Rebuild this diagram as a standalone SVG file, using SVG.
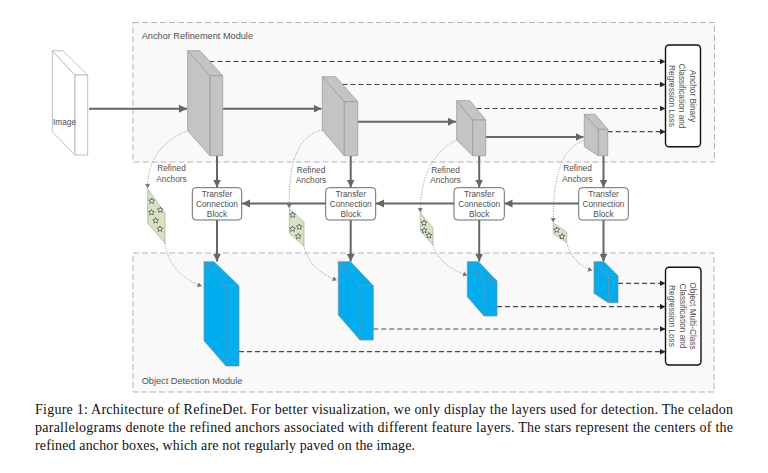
<svg xmlns="http://www.w3.org/2000/svg" width="768" height="473" viewBox="0 0 768 473">
<style>
.mod{fill:#f9f9f9;stroke:#b4b4b4;stroke-width:1;stroke-dasharray:6 3}
.lbl{font-family:"Liberation Sans",Arial,sans-serif;fill:#505050}
.mlbl{font-size:9.2px}
.sm{font-size:8.3px}
.gray{fill:#c4c4c4;stroke:#9c9c9c;stroke-width:0.8;stroke-linejoin:round}
.blue{fill:#00aeef;stroke:#7a8c96;stroke-width:0.7;stroke-linejoin:round}
.img{fill:#ffffff;stroke:#b0b0b0;stroke-width:0.8;stroke-linejoin:round}
.solid{stroke:#666666;stroke-width:2;fill:none}
.dash{stroke:#484848;stroke-width:1.2;stroke-dasharray:5 3;fill:none}
.dot{stroke:#7a7a7a;stroke-width:0.8;stroke-dasharray:1 1.5;fill:none}
.tcb{fill:#ffffff;stroke:#6a6a6a;stroke-width:1}
.loss{fill:#ffffff;stroke:#111111;stroke-width:1.4}
.para{fill:#d5e3c1;stroke:#9aa090;stroke-width:0.6}
.star{fill:#ffffff;stroke:#222222;stroke-width:0.6}
.cap{font-family:"Liberation Serif","Times New Roman",serif;font-size:14px;fill:#111111}
</style>
<defs>
<marker id="aS" markerUnits="userSpaceOnUse" markerWidth="10" markerHeight="10" refX="8" refY="4" orient="auto"><path d="M0,0 L8,4 L0,8 Z" fill="#666666"/></marker>
<marker id="aD" markerUnits="userSpaceOnUse" markerWidth="8" markerHeight="8" refX="6" refY="3" orient="auto"><path d="M0,0 L6,3 L0,6 Z" fill="#222222"/></marker>
<marker id="aT" markerUnits="userSpaceOnUse" markerWidth="6" markerHeight="6" refX="4.5" refY="2.5" orient="auto"><path d="M0,0 L4.5,2.5 L0,5 Z" fill="#777777"/></marker>
<path id="st" class="star" d="M0,-3 L0.735,-1.011 L2.853,-0.927 L1.189,0.386 L1.763,2.427 L0,1.25 L-1.763,2.427 L-1.189,0.386 L-2.853,-0.927 L-0.735,-1.011 Z"/>
</defs>
<rect width="768" height="473" fill="#ffffff"/>

<g id="anchor-refinement-module">
<rect class="mod" x="133" y="22.5" width="581.5" height="139.5"/>
<text class="lbl mlbl" x="141.7" y="38.5">Anchor Refinement Module</text>
</g>
<g id="object-detection-module">
<rect class="mod" x="133" y="253" width="581" height="139"/>
<text class="lbl mlbl" x="141.7" y="384">Object Detection Module</text>
</g>

<g id="connectors">
<line class="solid" x1="89" y1="108.7" x2="187" y2="108.7" marker-end="url(#aS)"/>
<line class="solid" x1="222.7" y1="108.7" x2="321.5" y2="108.7" marker-end="url(#aS)"/>
<line class="solid" x1="357.7" y1="121.7" x2="456" y2="121.7" marker-end="url(#aS)"/>
<line class="solid" x1="485.7" y1="137" x2="583.5" y2="137" marker-end="url(#aS)"/>
<line class="solid" x1="217" y1="155.7" x2="217" y2="187.5" marker-end="url(#aS)"/>
<line class="solid" x1="350.7" y1="155.7" x2="350.7" y2="187.5" marker-end="url(#aS)"/>
<line class="solid" x1="479.2" y1="155.7" x2="479.2" y2="187.5" marker-end="url(#aS)"/>
<line class="solid" x1="603.5" y1="155.7" x2="603.5" y2="187.5" marker-end="url(#aS)"/>
<line class="solid" x1="578.7" y1="203.5" x2="504.5" y2="203.5" marker-end="url(#aS)"/>
<line class="solid" x1="454" y1="203.5" x2="376" y2="203.5" marker-end="url(#aS)"/>
<line class="solid" x1="325.7" y1="203.5" x2="242" y2="203.5" marker-end="url(#aS)"/>
<line class="solid" x1="217" y1="220" x2="217" y2="261.5" marker-end="url(#aS)"/>
<line class="solid" x1="350.7" y1="220" x2="350.7" y2="261.5" marker-end="url(#aS)"/>
<line class="solid" x1="479.2" y1="220" x2="479.2" y2="261.5" marker-end="url(#aS)"/>
<line class="solid" x1="603.5" y1="220" x2="603.5" y2="261.5" marker-end="url(#aS)"/>
<line class="dash" x1="209.5" y1="61.5" x2="665.5" y2="61.5" marker-end="url(#aD)"/>
<line class="dash" x1="342.5" y1="84.5" x2="665.5" y2="84.5" marker-end="url(#aD)"/>
<line class="dash" x1="476.5" y1="108.5" x2="665.5" y2="108.5" marker-end="url(#aD)"/>
<line class="dash" x1="607.7" y1="131.7" x2="665.5" y2="131.7" marker-end="url(#aD)"/>
<line class="dash" x1="618" y1="283.3" x2="665.5" y2="283.3" marker-end="url(#aD)"/>
<line class="dash" x1="497" y1="306.7" x2="665.5" y2="306.7" marker-end="url(#aD)"/>
<line class="dash" x1="373.3" y1="329" x2="665.5" y2="329" marker-end="url(#aD)"/>
<line class="dash" x1="239" y1="351.7" x2="665.5" y2="351.7" marker-end="url(#aD)"/>
<path class="dot" d="M187.7,130.7 C163,140 147,160 147.7,188.5" marker-end="url(#aT)"/>
<path class="dot" d="M165,243 C167,262 180,278 202,286.3" marker-end="url(#aT)"/>
<path class="dot" d="M322.3,130 C300,135 288,158 289.3,208.5" marker-end="url(#aT)"/>
<path class="dot" d="M304,246 C307,262 320,274 337,280.3" marker-end="url(#aT)"/>
<path class="dot" d="M456.7,140 C435,150 420,175 420.3,212.5" marker-end="url(#aT)"/>
<path class="dot" d="M433,245 C437,259 450,270 467.5,275.3" marker-end="url(#aT)"/>
<path class="dot" d="M584.5,140 C565,147 553,167 553.3,222.5" marker-end="url(#aT)"/>
<path class="dot" d="M566.7,242.5 C570,257 580,266 592.3,270.8" marker-end="url(#aT)"/>
</g>

<g id="image">
<path class="img" d="M52.3,50.7 L75,75 L75,155 L52.3,131.7 Z"/>
<path class="img" d="M52.3,50.7 L63,50.7 L87.7,75 L75,75 Z"/>
<rect class="img" x="75" y="75" width="12.7" height="80"/>
<text class="lbl sm" x="53" y="125">Image</text>
</g>

<g id="arm-feature-1">
<path class="gray" d="M187.7,50.7 L210,75.7 L210,155.7 L187.7,130.7 Z"/>
<path class="gray" d="M187.7,50.7 L200,50.7 L222.7,75.7 L210,75.7 Z"/>
<rect class="gray" x="210" y="75.7" width="12.7" height="80"/>
</g>
<g id="arm-feature-2">
<path class="gray" d="M322.3,76.7 L344.3,101.7 L344.3,155.7 L322.3,130 Z"/>
<path class="gray" d="M322.3,76.7 L335.7,76.7 L357.7,101.7 L344.3,101.7 Z"/>
<rect class="gray" x="344.3" y="101.7" width="13.4" height="54"/>
</g>
<g id="arm-feature-3">
<path class="gray" d="M456.7,100.7 L472.7,120 L472.7,155.7 L456.7,140 Z"/>
<path class="gray" d="M456.7,100.7 L470,100.7 L485.7,120 L472.7,120 Z"/>
<rect class="gray" x="472.7" y="120" width="13" height="35.7"/>
</g>
<g id="arm-feature-4">
<path class="gray" d="M584.3,114.3 L598.3,129.3 L598.3,155.7 L584.3,146.7 Z"/>
<path class="gray" d="M584.3,114.3 L595,114.3 L607.7,129.3 L598.3,129.3 Z"/>
<rect class="gray" x="598.3" y="129.3" width="9.4" height="26.4"/>
</g>

<g id="anchor-loss">
<rect class="loss" x="665.5" y="45" width="35" height="101.7" rx="3.5"/>
<g transform="translate(683,96) rotate(90)">
<text class="lbl sm" text-anchor="middle" x="0" y="-6.8">Anchor Binary</text>
<text class="lbl sm" text-anchor="middle" x="0" y="3.6">Classification and</text>
<text class="lbl sm" text-anchor="middle" x="0" y="14">Regression Loss</text>
</g>
</g>

<g id="refined-anchors-label-1"><text class="lbl sm" text-anchor="middle" x="171.5" y="171.3">Refined</text><text class="lbl sm" text-anchor="middle" x="171.5" y="181.5">Anchors</text></g>
<g id="refined-anchors-label-2"><text class="lbl sm" text-anchor="middle" x="311" y="173">Refined</text><text class="lbl sm" text-anchor="middle" x="311" y="183.2">Anchors</text></g>
<g id="refined-anchors-label-3"><text class="lbl sm" text-anchor="middle" x="445.5" y="173">Refined</text><text class="lbl sm" text-anchor="middle" x="445.5" y="183.2">Anchors</text></g>
<g id="refined-anchors-label-4"><text class="lbl sm" text-anchor="middle" x="577.5" y="171.3">Refined</text><text class="lbl sm" text-anchor="middle" x="577.5" y="181.5">Anchors</text></g>

<g id="tcb-1"><rect class="tcb" x="192.3" y="187.7" width="49.4" height="32.3" rx="3.5"/>
<text class="lbl sm" text-anchor="middle" x="217" y="196.5">Transfer</text><text class="lbl sm" text-anchor="middle" x="217" y="206.8">Connection</text><text class="lbl sm" text-anchor="middle" x="217" y="217.1">Block</text></g>
<g id="tcb-2"><rect class="tcb" x="325.7" y="187.7" width="50" height="32.3" rx="3.5"/>
<text class="lbl sm" text-anchor="middle" x="350.7" y="196.5">Transfer</text><text class="lbl sm" text-anchor="middle" x="350.7" y="206.8">Connection</text><text class="lbl sm" text-anchor="middle" x="350.7" y="217.1">Block</text></g>
<g id="tcb-3"><rect class="tcb" x="454" y="187.7" width="50.3" height="32.3" rx="3.5"/>
<text class="lbl sm" text-anchor="middle" x="479.2" y="196.5">Transfer</text><text class="lbl sm" text-anchor="middle" x="479.2" y="206.8">Connection</text><text class="lbl sm" text-anchor="middle" x="479.2" y="217.1">Block</text></g>
<g id="tcb-4"><rect class="tcb" x="578.7" y="187.7" width="49.6" height="32.3" rx="3.5"/>
<text class="lbl sm" text-anchor="middle" x="603.5" y="196.5">Transfer</text><text class="lbl sm" text-anchor="middle" x="603.5" y="206.8">Connection</text><text class="lbl sm" text-anchor="middle" x="603.5" y="217.1">Block</text></g>

<g id="refined-anchors-1">
<path class="para" d="M147.7,189 L165,213 L165,243 L147.7,223.3 Z"/>
<use href="#st" x="151.7" y="201"/><use href="#st" x="151.5" y="212.5"/><use href="#st" x="160.3" y="210"/><use href="#st" x="155.7" y="220.7"/><use href="#st" x="160" y="229"/>
</g>
<g id="refined-anchors-2">
<path class="para" d="M289.3,208.5 L304,222 L304,246 L289.3,233.3 Z"/>
<use href="#st" x="292.7" y="215"/><use href="#st" x="292.5" y="229"/><use href="#st" x="299.3" y="227"/><use href="#st" x="298.3" y="236.3"/>
</g>
<g id="refined-anchors-3">
<path class="para" d="M420.3,213 L433,228 L433,245 L420.3,231 Z"/>
<use href="#st" x="424" y="223"/><use href="#st" x="424.3" y="230.5"/><use href="#st" x="429" y="235.5"/>
</g>
<g id="refined-anchors-4">
<path class="para" d="M553.3,223 L566.7,232 L566.7,242.5 L553.3,234 Z"/>
<use href="#st" x="556.7" y="230"/><use href="#st" x="562" y="236.5"/>
</g>

<g id="odm-feature-1">
<path class="blue" d="M204,261.7 L226,285.7 L226,366 L204,340.7 Z"/>
<path class="blue" d="M204,261.7 L214,261.7 L239,285.7 L226,285.7 Z"/>
<rect class="blue" x="226" y="285.7" width="13" height="80.3"/>
</g>
<g id="odm-feature-2">
<path class="blue" d="M338.3,261.7 L360,285.7 L360,340 L338.3,315 Z"/>
<path class="blue" d="M338.3,261.7 L350.5,261.7 L373.3,285.7 L360,285.7 Z"/>
<rect class="blue" x="360" y="285.7" width="13.3" height="54.3"/>
</g>
<g id="odm-feature-3">
<path class="blue" d="M467.3,261.7 L484,281 L484,316 L467.3,296.7 Z"/>
<path class="blue" d="M467.3,261.7 L478.5,261.7 L497,281 L484,281 Z"/>
<rect class="blue" x="484" y="281" width="13" height="35"/>
</g>
<g id="odm-feature-4">
<path class="blue" d="M594,261.7 L608.3,275.7 L608.3,302.7 L594,293.3 Z"/>
<path class="blue" d="M594,261.7 L604,261.7 L618,275.7 L608.3,275.7 Z"/>
<rect class="blue" x="608.3" y="275.7" width="9.7" height="27"/>
</g>

<g id="object-loss">
<rect class="loss" x="665.5" y="267.3" width="35.5" height="97.7" rx="3.5"/>
<g transform="translate(683.3,316) rotate(90)">
<text class="lbl sm" text-anchor="middle" x="0" y="-6.8">Object Multi-Class</text>
<text class="lbl sm" text-anchor="middle" x="0" y="3.6">Classification and</text>
<text class="lbl sm" text-anchor="middle" x="0" y="14">Regression Loss</text>
</g>
</g>

<g id="caption">
<text class="cap" x="35" y="414" textLength="698" lengthAdjust="spacing">Figure 1: Architecture of RefineDet. For better visualization, we only display the layers used for detection. The celadon</text>
<text class="cap" x="35" y="432" textLength="698" lengthAdjust="spacing">parallelograms denote the refined anchors associated with different feature layers. The stars represent the centers of the</text>
<text class="cap" x="35" y="450" textLength="380" lengthAdjust="spacing">refined anchor boxes, which are not regularly paved on the image.</text>
</g>
</svg>
